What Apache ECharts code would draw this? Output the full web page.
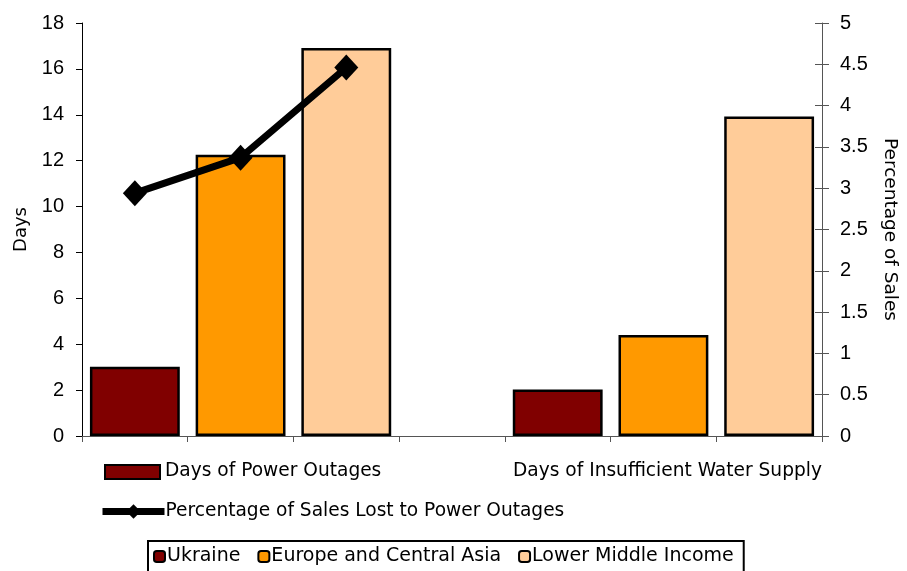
<!DOCTYPE html>
<html lang="en">
<head>
    <meta charset="utf-8">
    <title>Days of Power Outages and Water Supply</title>
    <script type="text/javascript" src="https://cdn.jsdelivr.net/npm/echarts@6/dist/echarts.min.js"></script>
    <style type="text/css">
        html, body { margin: 0; padding: 0; background: #fff; }
        #main { width: 907px; height: 571px; }
    </style>
</head>
<body>
<div id="main"></div>
<script type="text/javascript">
    // 7 slots: 3 bars for power outages, one gap, 3 bars for water supply
    var slots = ['', '', '', '', '', '', ''];
    var ukraine = [3.02, null, null, null, 2.03, null, null];
    var europe = [null, 12.26, null, null, null, 4.4, null];
    var lowerMiddle = [null, null, 16.91, null, null, null, 13.92];
    var salesLost = [2.94, 3.37, 4.46, null, null, null, null];

    var font = 'DejaVu Sans';
    var tickFont = 'Liberation Sans';
    var myChart = echarts.init(document.getElementById('main'));

    var barBorder = { borderColor: '#000', borderWidth: 2.5 };

    var option = {
        animation: false,
        grid: { left: 82, right: 81, top: 23, bottom: 135 },
        xAxis: [{
            type: 'category',
            data: slots,
            boundaryGap: true,
            axisLine: { lineStyle: { color: '#555', width: 1 } },
            axisTick: { show: true, interval: 0, length: 6, lineStyle: { color: '#555' } },
            axisLabel: { show: false },
            splitLine: { show: false }
        }],
        yAxis: [{
            type: 'value',
            min: 0, max: 18, interval: 2,
            name: 'Days',
            nameLocation: 'middle',
            nameGap: 52,
            nameTextStyle: { fontFamily: font, fontSize: 18, color: '#000' },
            axisLine: { show: true, lineStyle: { color: '#000' } },
            axisTick: { show: true, length: 6, lineStyle: { color: '#000' } },
            axisLabel: { fontFamily: tickFont, fontSize: 20, color: '#000', margin: 18 },
            splitLine: { show: false }
        }, {
            type: 'value',
            position: 'right',
            min: 0, max: 5, interval: 0.5,
            name: 'Percentage of Sales',
            nameLocation: 'middle',
            nameRotate: -90,
            nameGap: 58,
            nameTextStyle: { fontFamily: font, fontSize: 18.5, color: '#000' },
            axisLine: { show: true, lineStyle: { color: '#555' } },
            axisTick: { show: true, length: 7, lineStyle: { color: '#555' } },
            axisLabel: { fontFamily: tickFont, fontSize: 20, color: '#000', margin: 18 },
            splitLine: { show: false }
        }, {
            // inner half of the crossing ticks on the right axis
            type: 'value',
            position: 'right',
            min: 0, max: 5, interval: 0.5,
            axisLine: { show: false },
            axisTick: { show: true, inside: true, length: 7, lineStyle: { color: '#555' } },
            axisLabel: { show: false },
            splitLine: { show: false }
        }],
        legend: [{
            data: ['Percentage of Sales Lost to Power Outages'],
            left: 94, top: 497,
            itemWidth: 62, itemHeight: 18, itemGap: 0,
            lineStyle: { width: 7, color: '#000' },
            textStyle: { fontFamily: font, fontSize: 18.6, color: '#000', padding: [0, 0, 0, -4] }
        }, {
            data: ['Ukraine', 'Europe and Central Asia', 'Lower Middle Income'],
            left: 148, top: 541,
            padding: [6, 10, 10, 5],
            borderColor: '#000', borderWidth: 2,
            itemWidth: 11, itemHeight: 11, itemGap: 17,
            textStyle: { fontFamily: font, fontSize: 19, color: '#000', padding: [0, 0, 0, -3] }
        }],
        graphic: [{
            type: 'rect',
            shape: { x: 105, y: 465, width: 55, height: 14 },
            style: { fill: '#800000', stroke: '#000', lineWidth: 2 }
        }, {
            type: 'text',
            left: 165, top: 462,
            style: { text: 'Days of Power Outages', font: '18.6px "DejaVu Sans"', fill: '#000' }
        }, {
            type: 'text',
            left: 513, top: 462,
            style: { text: 'Days of Insufficient Water Supply', font: '18.6px "DejaVu Sans"', fill: '#000' }
        }],
        series: [{
            name: 'Ukraine',
            type: 'bar',
            stack: 'slot',
            barWidth: '85%',
            itemStyle: Object.assign({ color: '#800000' }, barBorder),
            data: ukraine
        }, {
            name: 'Europe and Central Asia',
            type: 'bar',
            stack: 'slot',
            barWidth: '85%',
            itemStyle: Object.assign({ color: '#ff9900' }, barBorder),
            data: europe
        }, {
            name: 'Lower Middle Income',
            type: 'bar',
            stack: 'slot',
            barWidth: '85%',
            itemStyle: Object.assign({ color: '#ffcc99' }, barBorder),
            data: lowerMiddle
        }, {
            name: 'Percentage of Sales Lost to Power Outages',
            type: 'line',
            yAxisIndex: 1,
            symbol: 'diamond',
            symbolSize: [24, 26],
            lineStyle: { color: '#000', width: 7 },
            itemStyle: { color: '#000' },
            data: salesLost
        }]
    };

    myChart.setOption(option);
</script>
</body>
</html>
